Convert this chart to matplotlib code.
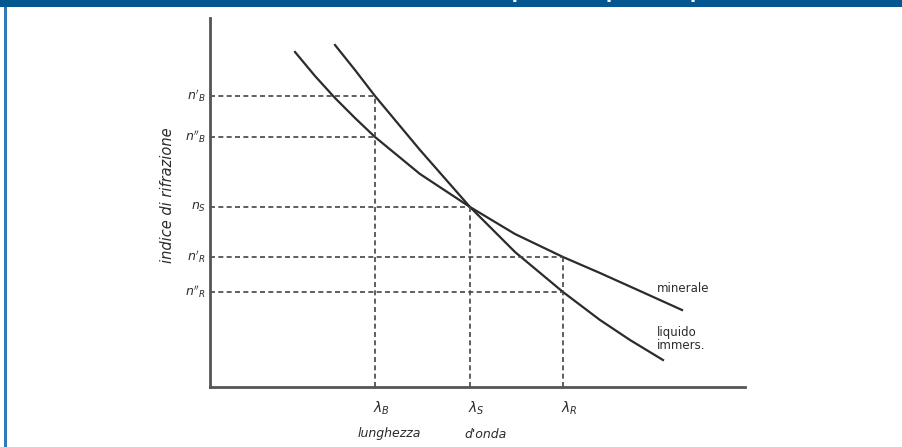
import matplotlib.pyplot as plt
from matplotlib.patches import Rectangle

# dispersion curves (wavelength, refractive index) in arbitrary units
lam_min = [0.85, 1.05, 1.25, 1.45, 1.65, 2.10, 2.60, 3.05, 3.53, 3.90, 4.30, 4.72]
n_min = [3.35, 3.11, 2.89, 2.69, 2.50, 2.13, 1.80, 1.53, 1.30, 1.14, 0.96, 0.77]
lam_liq = [1.25, 1.45, 1.65, 2.10, 2.60, 3.05, 3.53, 3.90, 4.20, 4.53]
n_liq = [3.42, 3.17, 2.91, 2.37, 1.80, 1.35, 0.95, 0.67, 0.47, 0.27]

lam_ticks = [1.65, 2.60, 3.53]
lam_labels = [r"$\lambda_B$", r"$\lambda_S$", r"$\lambda_R$"]
n_levels = [2.91, 2.50, 1.80, 1.30, 0.95]
n_at_lam = [1.65, 1.65, 2.60, 3.53, 3.53]
n_labels = [r"$n'_B$", r"$n''_B$", r"$n_S$", r"$n'_R$", r"$n''_R$"]

W, H = 902, 447
fig = plt.figure(figsize=(W / 100, H / 100), dpi=100)
fig.patch.set_facecolor("white")

# blue frame: header bar and left rule
fig.patches.append(Rectangle((0, 1 - 7 / H), 1, 7 / H, transform=fig.transFigure,
                             facecolor="#04578f", edgecolor="none"))
fig.patches.append(Rectangle((4 / W, 0), 2.5 / W, 1 - 7 / H, transform=fig.transFigure,
                             facecolor="#3478b8", edgecolor="none"))
fig.text(0.995, 1 + 2 / H, "Curve di dispersione per una prova di immersione",
         ha="right", va="baseline", color="white", fontsize=13, fontweight="bold")

ax = fig.add_axes([210 / W, 60 / H, 535 / W, 369 / H])
ax.set_xlim(0, 5.35)
ax.set_ylim(0, 3.69)
for s in ["top", "right"]:
    ax.spines[s].set_visible(False)
for s in ["left", "bottom"]:
    ax.spines[s].set_color("#555555")
    ax.spines[s].set_linewidth(2)
ax.set_xticks([])
ax.set_yticks([])

ink = "#2b2b2b"
ax.plot(lam_min, n_min, color=ink, lw=1.6, solid_joinstyle="round", clip_on=False)
ax.plot(lam_liq, n_liq, color=ink, lw=1.6, solid_joinstyle="round", clip_on=False)

dash = (0, (3, 2))
for n, lam in zip(n_levels, n_at_lam):
    ax.plot([0, lam], [n, n], color="#444444", lw=1.2, ls=dash)
for lam in lam_ticks:
    top = max(n for n, l in zip(n_levels, n_at_lam) if l == lam)
    ax.plot([lam, lam], [0, top], color="#444444", lw=1.2, ls=dash)

for n, lab in zip(n_levels, n_labels):
    ax.text(-0.04, n, lab, ha="right", va="center", fontsize=9, color=ink)
for lam, lab in zip(lam_ticks, lam_labels):
    ax.text(lam - 0.02, -0.21, lab, ha="left", va="center", fontsize=10, color=ink)

ax.text(4.47, 0.99, "minerale", ha="left", va="center", fontsize=8.5, color=ink)
ax.text(4.47, 0.48, "liquido\nimmers.", ha="left", va="center", fontsize=8.5,
        color=ink, linespacing=1.0)

ax.text(1.79, -0.47, "lunghezza", ha="center", va="center", fontsize=9,
        style="italic", color=ink)
ax.text(2.76, -0.47, "d'onda", ha="center", va="center", fontsize=9,
        style="italic", color=ink)
ax.text(-0.43, 1.92, "indice di rifrazione", rotation=90, ha="center", va="center",
        fontsize=10.5, style="italic", color=ink)

fig.savefig("out.png", dpi=100)
